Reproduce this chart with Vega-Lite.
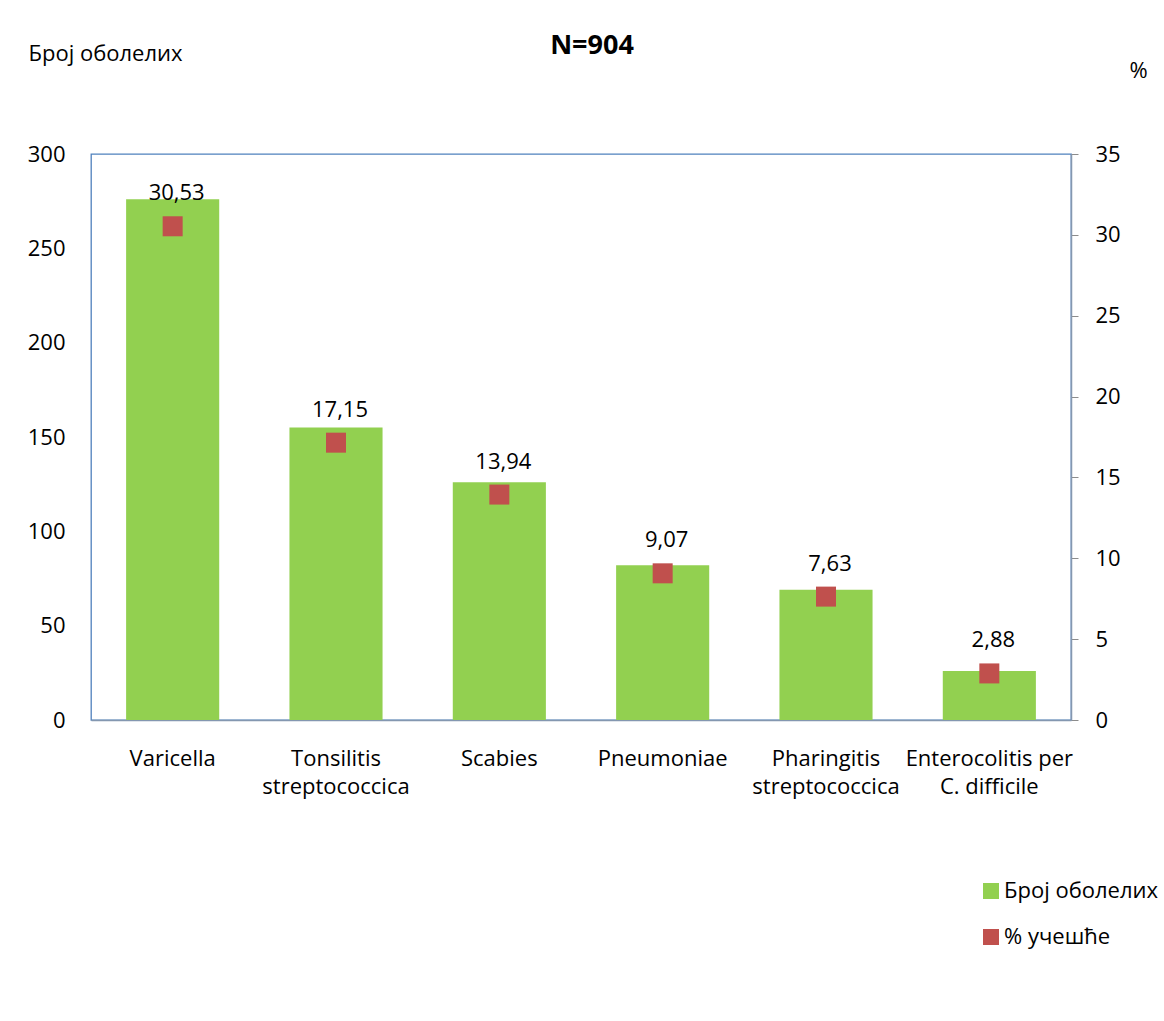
{
  "$schema": "https://vega.github.io/schema/vega-lite/v6.json",
  "width": 980,
  "height": 566,
  "autosize": {"type": "none"},
  "padding": {"left": 91, "top": 154, "right": 93, "bottom": 301},
  "background": "white",
  "config": {
    "font": "Open Sans",
    "locale": {"number": {"decimal": ",", "thousands": ".", "grouping": [3], "currency": ["", ""]}},
    "view": {"stroke": "#4F81BD", "strokeWidth": 1.3},
    "axis": {"labelFont": "Open Sans", "labelFontSize": 22, "labelColor": "black", "grid": false, "titleFont": "Open Sans", "titleFontSize": 22, "titleFontWeight": "normal", "titleColor": "black"},
    "legend": {"labelFont": "Open Sans", "labelFontSize": 22, "labelColor": "black"}
  },
  "title": {"text": "N=904", "font": "Open Sans", "fontSize": 27, "fontWeight": "bold", "color": "black", "frame": "group", "anchor": "middle", "offset": 0, "dy": 18, "dx": 11},
  "data": {
    "values": [
      {"disease": "Varicella", "count": 276, "pct": 30.53},
      {"disease": "Tonsilitis\nstreptococcica", "count": 155, "pct": 17.15},
      {"disease": "Scabies", "count": 126, "pct": 13.94},
      {"disease": "Pneumoniae", "count": 82, "pct": 9.07},
      {"disease": "Pharingitis\nstreptococcica", "count": 69, "pct": 7.63},
      {"disease": "Enterocolitis per\nC. difficile", "count": 26, "pct": 2.88}
    ]
  },
  "encoding": {
    "x": {
      "field": "disease", "type": "nominal", "sort": null,
      "scale": {"paddingInner": 0.43, "paddingOuter": 0.215},
      "axis": {"title": null, "labelAngle": 0, "domainColor": "#8497B0", "domainWidth": 1.5, "ticks": false, "labelPadding": 28, "labelExpr": "split(datum.label, '\\n')", "labelLineHeight": 28, "labelBaseline": "top"}
    }
  },
  "layer": [
    {
      "mark": {"type": "bar"},
      "encoding": {
        "y": {"field": "count", "type": "quantitative", "scale": {"domain": [0, 300]},
          "axis": {"title": "Број оболелих", "titleAngle": 0, "titleAlign": "left", "titleX": -63, "titleY": -101, "titleBaseline": "middle", "domain": false, "ticks": false, "labelPadding": 26, "values": [0, 50, 100, 150, 200, 250, 300]}},
        "fill": {"datum": "Број оболелих", "type": "nominal",
          "scale": {"domain": ["Број оболелих", "% учешће"], "range": ["#92D050", "#C0504D"]},
          "legend": {"orient": "none", "legendX": 889, "legendY": 726, "title": null, "symbolType": "square", "symbolSize": 256, "rowPadding": 24, "labelOffset": 2, "symbolStrokeWidth": 0, "symbolOpacity": 1}}
      }
    },
    {
      "layer": [
        {
          "mark": {"type": "point", "shape": "square", "filled": true, "size": 400, "opacity": 1},
          "encoding": {
            "y": {"field": "pct", "type": "quantitative", "scale": {"domain": [0, 35]},
              "axis": {"orient": "right", "title": "%", "titleAngle": 0, "titleAlign": "center", "titleX": 67, "titleY": -84, "titleBaseline": "middle", "domainColor": "#8497B0", "domainWidth": 1.5, "tickColor": "#8C8C8C", "tickSize": 7, "labelPadding": 17, "values": [0, 5, 10, 15, 20, 25, 30, 35]}},
            "fill": {"datum": "% учешће", "type": "nominal"}
          }
        },
        {
          "mark": {"type": "text", "dy": -33, "dx": 4, "fontSize": 22, "baseline": "middle", "color": "black"},
          "encoding": {
            "y": {"field": "pct", "type": "quantitative"},
            "text": {"field": "pct", "type": "quantitative", "format": ".2f"}
          }
        }
      ]
    }
  ],
  "resolve": {"scale": {"y": "independent"}}
}
